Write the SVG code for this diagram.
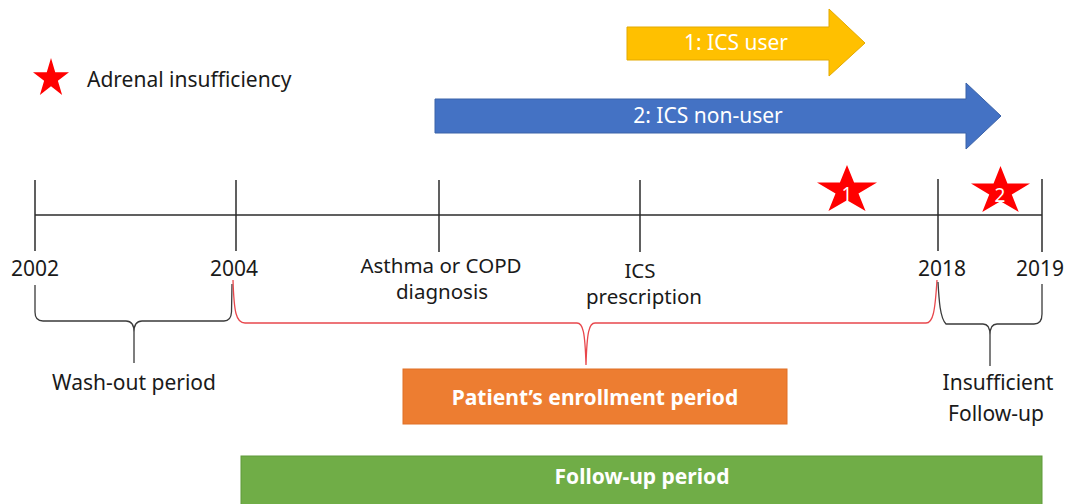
<svg xmlns="http://www.w3.org/2000/svg" xmlns:xlink="http://www.w3.org/1999/xlink" width="1081" height="504" viewBox="0 0 1081 504">
  <style>
    text { font-family: "Noto Sans", "Open Sans", "DejaVu Sans", sans-serif; fill: #1a1a1a; }
    .lbl { font-size: 21px; text-anchor: middle; }
    .lbl2 { font-size: 20.5px; text-anchor: middle; }
    .arrow-txt { font-size: 21px; fill: #ffffff; text-anchor: middle; }
    .box-txt { font-size: 21px; font-weight: bold; fill: #ffffff; text-anchor: middle; }
    .star-num { font-size: 19px; fill: #ffffff; text-anchor: middle; }
    .axis { stroke: #2b2b2b; stroke-width: 1.5; fill: none; }
    .brace { stroke: #3a3a3a; stroke-width: 1.3; fill: none; }
    .brace-red { stroke: #e8474c; stroke-width: 1.3; fill: none; }
    .star { fill: #ff0000; }
  </style>
  <defs>
    <!-- five-point star filling a 100x100 box -->
    <symbol id="star5" viewBox="0 0 100 100" preserveAspectRatio="none">
      <polygon class="star" points="0,38.2 38.2,38.2 50,0 61.8,38.2 100,38.2 69.1,61.8 80.9,100 50,76.4 19.1,100 30.9,61.8"/>
    </symbol>
  </defs>

  <rect width="1081" height="504" fill="#ffffff"/>

  <!-- legend -->
  <g id="legend">
    <use xlink:href="#star5" x="33" y="58" width="36" height="37"/>
    <text x="87" y="87" style="font-size:21px">Adrenal insufficiency</text>
  </g>

  <!-- cohort arrows -->
  <g id="ics-user">
    <polygon points="627,27 829,27 829,9 865,43 829,76 829,60 627,60" fill="#ffc000" stroke="#e3a900" stroke-width="1"/>
    <text class="arrow-txt" x="736" y="50">1: ICS user</text>
  </g>
  <g id="ics-non-user">
    <polygon points="435,99 966,99 966,83 1001,116 966,149 966,133 435,133" fill="#4472c4" stroke="#3a62a8" stroke-width="1"/>
    <text class="arrow-txt" x="708" y="123">2: ICS non-user</text>
  </g>

  <!-- connectors: timeline axis and period braces -->
  <g id="connectors">
    <line class="axis" x1="35" y1="215" x2="1042" y2="215"/>
    <line class="axis" x1="35" y1="180" x2="35" y2="251"/>
    <line class="axis" x1="236" y1="180" x2="236" y2="251"/>
    <line class="axis" x1="439" y1="180" x2="439" y2="252"/>
    <line class="axis" x1="640" y1="180" x2="640" y2="252"/>
    <line class="axis" x1="938" y1="179" x2="938" y2="251"/>
    <line class="axis" x1="1042" y1="179" x2="1042" y2="252"/>

    <!-- wash-out brace -->
    <path class="brace" d="M35,285 V312 Q35,321 43,321 H126 Q134,321 134,332 V363 M134,332 Q134,321 142,321 H224 Q231,321 231.5,312 L232,284"/>
    <!-- enrollment brace -->
    <path class="brace-red" d="M233,280 C234,312 236,323 245,323 H577 C583,323 585,332 586,365 C587,332 589,323 595,323 H926 C933,323 935,312 937,280"/>
    <!-- insufficient follow-up brace -->
    <path class="brace" d="M938,282 C939,300 940,318 946,324 H983 Q990,324 990,335 V366 M990,335 Q990,324 997,324 H1034 Q1042,324 1042,314 V284"/>
  </g>

  <!-- timeline labels -->
  <g id="year-2002"><text class="lbl" x="35" y="276">2002</text></g>
  <g id="year-2004"><text class="lbl" x="234" y="276">2004</text></g>
  <g id="diagnosis">
    <text class="lbl2" x="441" y="273">Asthma or COPD</text>
    <text class="lbl2" x="442" y="299">diagnosis</text>
  </g>
  <g id="prescription">
    <text class="lbl2" x="640" y="278">ICS</text>
    <text class="lbl2" x="644" y="304">prescription</text>
  </g>
  <g id="year-2018"><text class="lbl" x="942" y="276">2018</text></g>
  <g id="year-2019"><text class="lbl" x="1040" y="276">2019</text></g>

  <!-- event markers -->
  <g id="event-1">
    <use xlink:href="#star5" x="817" y="165" width="60" height="46"/>
    <text class="star-num" x="847" y="201">1</text>
  </g>
  <g id="event-2">
    <use xlink:href="#star5" x="971" y="166" width="59" height="46"/>
    <text class="star-num" x="1000" y="202">2</text>
  </g>

  <!-- period labels -->
  <g id="washout-label"><text class="lbl" x="134" y="390">Wash-out period</text></g>
  <g id="insufficient-label">
    <text class="lbl" x="998" y="390">Insufficient</text>
    <text class="lbl" x="996" y="421">Follow-up</text>
  </g>

  <g id="enrollment-period">
    <rect x="403" y="369" width="384" height="55" fill="#ed7d31" stroke="#e07027" stroke-width="1"/>
    <text class="box-txt" x="595" y="405">Patient’s enrollment period</text>
  </g>
  <g id="follow-up-period">
    <rect x="241" y="456" width="801" height="60" fill="#70ad47" stroke="#5f9a3b" stroke-width="1"/>
    <text class="box-txt" x="642" y="484">Follow-up period</text>
  </g>
</svg>
